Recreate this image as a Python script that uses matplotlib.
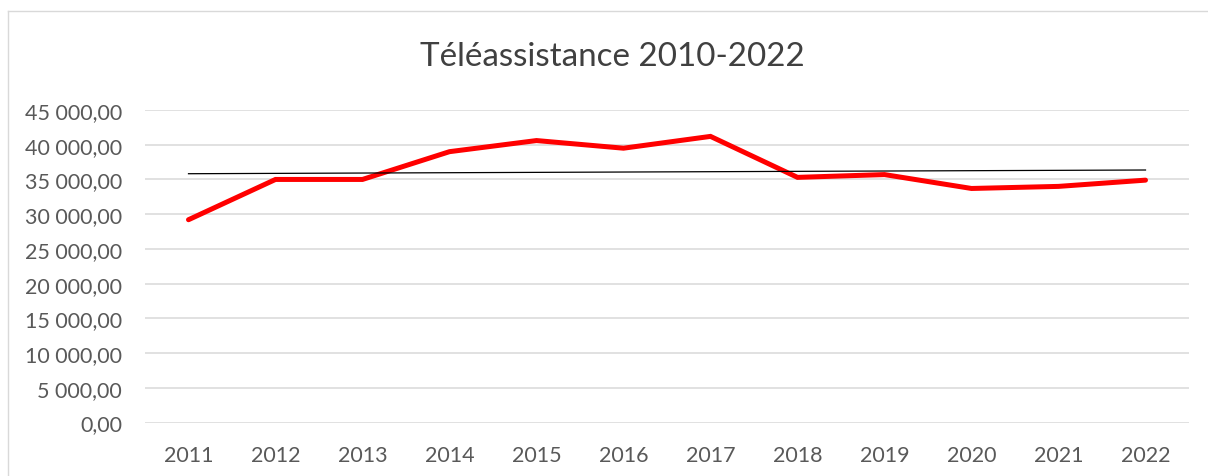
import numpy as np
import matplotlib
matplotlib.use("Agg")
import matplotlib.pyplot as plt
from matplotlib.ticker import FuncFormatter
from matplotlib.lines import Line2D

years = ["2011", "2012", "2013", "2014", "2015", "2016", "2017", "2018", "2019", "2020", "2021", "2022"]
values = [29200, 35000, 35000, 39000, 40600, 39500, 41200, 35300, 35700, 33700, 34000, 34900]
yticks = [0, 5000, 10000, 15000, 20000, 25000, 30000, 35000, 40000, 45000]
title = "Téléassistance 2010-2022"

plt.rcParams['font.family'] = ['Lato', 'DejaVu Sans']

W, H = 1208, 477
fig = plt.figure(figsize=(W / 100, H / 100), dpi=100)
ax = fig.add_axes([145 / W, 1 - 423.5 / H, (1189 - 145) / W, (423.5 - 111) / H])

x = np.arange(len(years))
ax.plot(x, values, color="#ff0000", lw=3.6, solid_capstyle="round", solid_joinstyle="miter", zorder=3)

# linear trendline
coef = np.polyfit(x, values, 1)
ax.plot(x, np.polyval(coef, x), color="black", lw=0.9, zorder=4)

ax.set_xlim(-0.5, len(years) - 0.5)
ax.set_ylim(0, 45000)
ax.set_yticks(yticks)
ax.yaxis.set_major_formatter(FuncFormatter(lambda v, p: f"{v:,.2f}".replace(",", " ").replace(".", ",")))
ax.set_xticks(x)
ax.set_xticklabels(years)
ax.grid(axis="y", color="#d9d9d9", lw=1.1)
ax.set_axisbelow(True)
for s in ax.spines.values():
    s.set_visible(False)
ax.tick_params(axis="both", length=0, labelsize=15.5, colors="#595959")
ax.tick_params(axis="y", pad=16.5)
ax.tick_params(axis="x", pad=16)

fig.text(612 / W, 1 - 57 / H, title, ha="center", va="center", fontsize=23.9, color="#404040")

# chart border
fig.add_artist(Line2D([8 / W, 1], [1 - 12 / H, 1 - 12 / H], color="#d9d9d9", lw=1, transform=fig.transFigure))
fig.add_artist(Line2D([8 / W, 8 / W], [0, 1 - 12 / H], color="#d9d9d9", lw=1, transform=fig.transFigure))

fig.savefig("out.png", dpi=100)
